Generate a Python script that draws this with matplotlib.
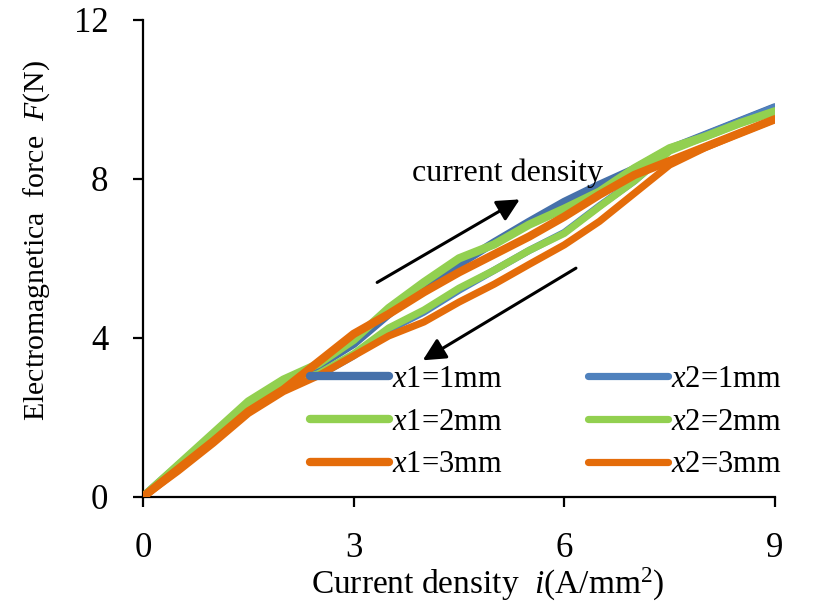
"""Electromagnetic force vs current density, rising (x1) and falling (x2) branches."""

import matplotlib

matplotlib.use("Agg")
import matplotlib.pyplot as plt

plt.rcParams["font.family"] = ["Liberation Serif", "DejaVu Serif"]
plt.rcParams["mathtext.fontset"] = "custom"
plt.rcParams["mathtext.rm"] = "Liberation Serif"
plt.rcParams["mathtext.it"] = "Liberation Serif:italic"

current = [0, 0.5, 1, 1.5, 2, 2.5, 3, 3.5, 4, 4.5, 5, 5.5, 6, 6.5, 7, 7.5, 8, 8.5, 9]

# rising branch (x1)
x1_1mm = [0, 0.78, 1.55, 2.35, 2.9, 3.3, 3.85, 4.6, 5.3, 5.85, 6.4, 6.92, 7.42, 7.85, 8.25, 8.75, 9.1, 9.45, 9.8]
x1_2mm = [0, 0.8, 1.6, 2.4, 2.95, 3.35, 3.95, 4.75, 5.4, 6.0, 6.35, 6.85, 7.25, 7.68, 8.27, 8.77, 9.06, 9.4, 9.7]
x1_3mm = [0, 0.7, 1.4, 2.15, 2.7, 3.4, 4.1, 4.6, 5.15, 5.65, 6.1, 6.55, 7.05, 7.6, 8.1, 8.45, 8.8, 9.15, 9.5]
# falling branch (x2)
x2_1mm = [0, 0.75, 1.5, 2.3, 2.8, 3.05, 3.55, 4.2, 4.65, 5.2, 5.7, 6.2, 6.65, 7.32, 7.95, 8.72, 9.1, 9.45, 9.8]
x2_2mm = [0, 0.78, 1.55, 2.35, 2.85, 3.1, 3.6, 4.25, 4.7, 5.25, 5.7, 6.2, 6.63, 7.3, 7.95, 8.7, 9.05, 9.4, 9.7]
x2_3mm = [0, 0.65, 1.35, 2.1, 2.65, 3.05, 3.55, 4.05, 4.4, 4.9, 5.35, 5.85, 6.34, 6.93, 7.64, 8.35, 8.78, 9.15, 9.5]

BLUE1, BLUE2 = "#4671aa", "#4f81bd"
GREEN = "#92d050"
ORANGE = "#e46c0a"

fig = plt.figure(figsize=(8.27, 6.03), dpi=100)
ax = fig.add_axes([0.173, 0.176, 0.764, 0.791])

series = [
    (x1_1mm, BLUE1, 6.0, "$x$1=1mm", 2),
    (x1_2mm, GREEN, 6.0, "$x$1=2mm", 3),
    (x1_3mm, ORANGE, 6.0, "$x$1=3mm", 4),
    (x2_1mm, BLUE2, 5.2, "$x$2=1mm", 2),
    (x2_2mm, GREEN, 5.2, "$x$2=2mm", 3),
    (x2_3mm, ORANGE, 5.2, "$x$2=3mm", 4),
]
handles = []
for vals, color, lw, label, z in series:
    (h,) = ax.plot(current, vals, color=color, lw=lw, label=label,
                   solid_capstyle="round", solid_joinstyle="round", zorder=z)
    handles.append(h)

ax.set_xlim(0, 9)
ax.set_ylim(0, 12)
ax.set_xticks([0, 3, 6, 9])
ax.set_yticks([0, 4, 8, 12])
for side in ("top", "right"):
    ax.spines[side].set_visible(False)
for side in ("left", "bottom"):
    ax.spines[side].set_linewidth(1.6)
ax.tick_params(axis="both", direction="out", length=7, width=1.6, labelsize=25)
ax.tick_params(axis="x", pad=18)
ax.tick_params(axis="y", pad=18)

ax.set_xlabel("Current density  $i$(A/mm$^2$)", fontsize=24)
ax.xaxis.set_label_coords(0.546, -0.145)
ax.set_ylabel("Electromagnetica  force  $F$(N)", fontsize=21.5)
ax.yaxis.set_label_coords(-0.144, 0.537)

ax.annotate("", xy=(5.40, 7.52), xytext=(3.30, 5.36),
            arrowprops=dict(arrowstyle="-|>", mutation_scale=34, lw=2.2, color="black"))
ax.annotate("", xy=(3.95, 3.40), xytext=(6.20, 5.79),
            arrowprops=dict(arrowstyle="-|>", mutation_scale=34, lw=2.2, color="black"))
ax.text(5.19, 8.15, "current density", fontsize=23, ha="center", va="center")

ax.legend(handles=handles, ncol=2, loc="upper left", bbox_to_anchor=(0.264, 0.277),
          frameon=False, fontsize=22, handlelength=2.6, handletextpad=0.1,
          columnspacing=2.8, labelspacing=0.45, borderaxespad=0, borderpad=0)

fig.savefig("out.png", dpi=100)
